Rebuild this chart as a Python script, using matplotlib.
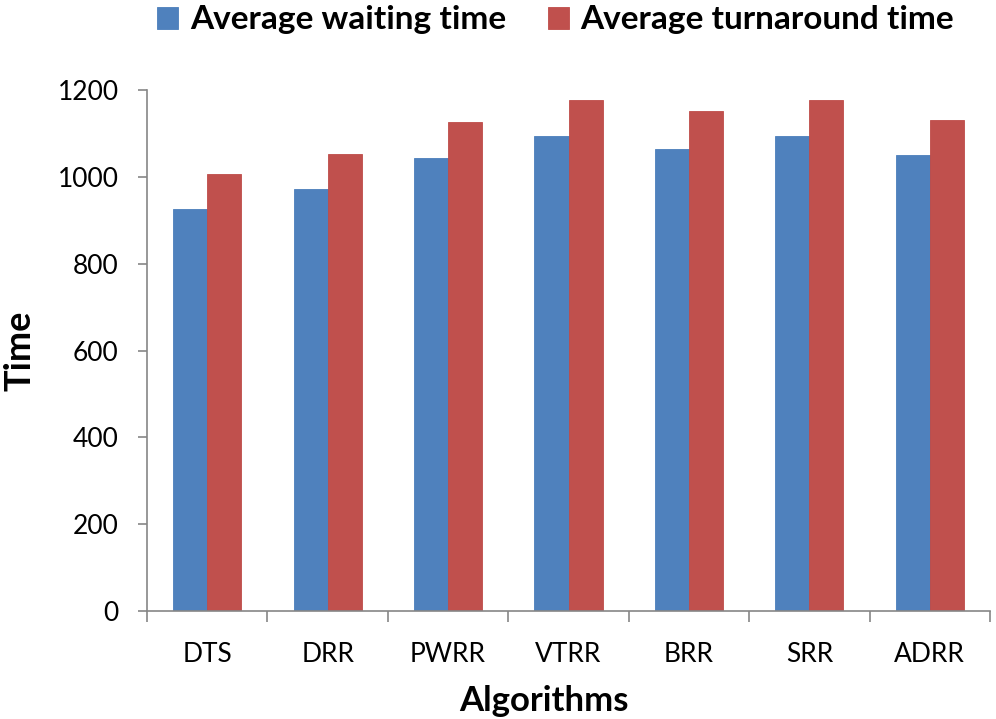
import numpy as np
import matplotlib
matplotlib.use("Agg")
import matplotlib.pyplot as plt

algorithms = ["DTS", "DRR", "PWRR", "VTRR", "BRR", "SRR", "ADRR"]
avg_waiting = [925, 973, 1043, 1095, 1063, 1095, 1050]
avg_turnaround = [1007, 1053, 1126, 1178, 1151, 1178, 1130]

plt.rcParams["font.family"] = ["Lato", "DejaVu Sans"]

fig = plt.figure(figsize=(9.96, 7.19), dpi=100)
ax = fig.add_axes([0.1476, 0.1502, 0.8464, 0.7246])

x = np.arange(len(algorithms))
w = 0.283
ax.bar(x - w / 2, avg_waiting, w, color="#4F81BD", edgecolor="#4A7EBB",
       linewidth=0.6, label="Average waiting time")
ax.bar(x + w / 2, avg_turnaround, w, color="#C0504D", edgecolor="#BE4B48",
       linewidth=0.6, label="Average turnaround time")

ax.set_xlim(-0.5, len(algorithms) - 0.5)
ax.set_ylim(0, 1200)
ax.set_yticks(range(0, 1201, 200))
ax.set_xticks(x)
ax.set_xticklabels(algorithms)
ax.set_xticks(np.arange(-0.5, len(algorithms), 1.0), minor=True)

for s in ["top", "right"]:
    ax.spines[s].set_visible(False)
for s in ["left", "bottom"]:
    ax.spines[s].set_color("#868686")
    ax.spines[s].set_linewidth(1.2)

ax.tick_params(axis="y", which="major", length=6.5, width=1.2, color="#868686",
               labelsize=19, pad=14)
ax.tick_params(axis="x", which="major", length=0, labelsize=19, pad=22)
ax.tick_params(axis="x", which="minor", length=8, width=1.2, color="#868686")

ax.set_ylabel("Time", fontsize=26, fontweight="bold", va="center")
ax.yaxis.set_label_coords(-0.1507, 0.5)
ax.set_xlabel("Algorithms", fontsize=25, fontweight="bold", va="center")
ax.xaxis.set_label_coords(0.471, -0.173)

leg = fig.legend(loc="center", bbox_to_anchor=(0.558, 1 - 20 / 719), ncol=2,
                 frameon=False, prop={"size": 24, "weight": "bold"},
                 handlelength=0.63, handleheight=0.63, handletextpad=0.36,
                 columnspacing=1.23, borderpad=0)

fig.savefig("out.png", dpi=100)
